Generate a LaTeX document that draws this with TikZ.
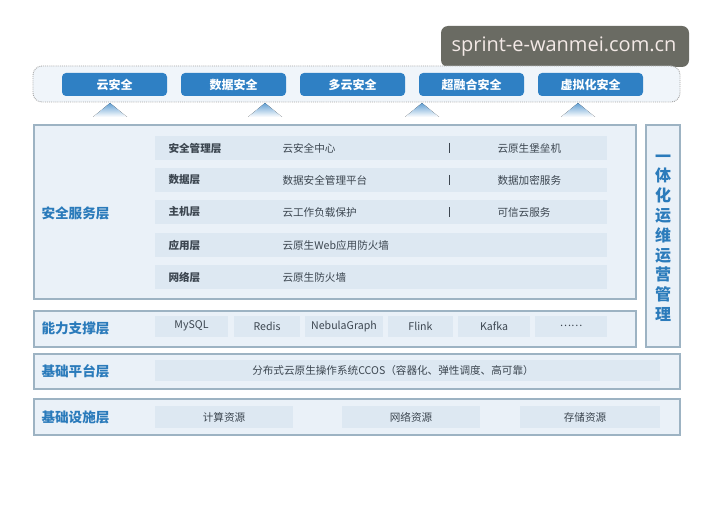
\documentclass[tikz,border=0pt]{standalone}
\usepackage{fontspec}
\setmainfont{Noto Sans CJK SC}
\newfontfamily\wmfont{Open Sans}
\usetikzlibrary{shapes.geometric}
\definecolor{btnblue}{HTML}{2F80C4}
\definecolor{lblblue}{HTML}{2B7BBB}
\definecolor{boxline}{HTML}{9DB3C3}
\definecolor{boxfill}{HTML}{EAF1F8}
\definecolor{bandfill}{HTML}{DDE8F2}
\definecolor{txtgray}{HTML}{3C4650}
\definecolor{wmgray}{HTML}{6A6B63}
\definecolor{wmtext}{HTML}{F3E9E6}
\begin{document}
\begin{tikzpicture}[x=1pt,y=-1pt,
  layerbox/.style={draw=boxline,line width=1.2pt,fill=boxfill},
  band/.style={fill=bandfill,draw=none},
  btn/.style={fill=btnblue,rounded corners=4pt,draw=none,text=white,font=\bfseries\fontsize{12}{13}\selectfont,minimum width=105pt,minimum height=23pt,inner sep=0pt},
  layerlbl/.style={anchor=west,text=lblblue,font=\bfseries\fontsize{13.6}{15}\selectfont},
  rowlbl/.style={anchor=west,text=txtgray,font=\bfseries\fontsize{10.6}{12}\selectfont},
  rowtxt/.style={anchor=west,text=txtgray,font=\fontsize{10.6}{12}\selectfont},
  ctxt/.style={text=txtgray,font=\fontsize{10.6}{12}\selectfont},
  tri/.style={top color=btnblue!75,bottom color=white,draw=none}
]
\useasboundingbox[fill=white] (0,0) rectangle (714,505);

% watermark
\node[fill=wmgray,rounded corners=7pt,minimum width=248pt,minimum height=41pt,inner sep=0pt] (wm) at (565,46.5) {};
\node[text=wmtext,font=\wmfont\fontsize{20}{22}\selectfont] (wmt) at (564,47) {sprint-e-wanmei.com.cn};

% top dotted container
\node[draw=gray!70,densely dotted,line width=0.9pt,fill=boxfill!70,rounded corners=9pt,minimum width=647pt,minimum height=36pt,inner sep=0pt] (top) at (356.5,84) {};
\node[btn] (b1) at (114.5,84.5) {云安全};
\node[btn] (b2) at (233.5,84.5) {数据安全};
\node[btn] (b3) at (352.5,84.5) {多云安全};
\node[btn] (b4) at (471.5,84.5) {超融合安全};
\node[btn] (b5) at (590.5,84.5) {虚拟化安全};

% triangles
\foreach \tx in {110,265,422,578}{
  \fill[tri] (\tx,103) -- (\tx+17,117) -- (\tx-17,117) -- cycle;
}

% security service layer
\draw[layerbox] (34,125) rectangle (636,299);
\node[layerlbl] (sec) at (38,213) {安全服务层};
\foreach \yy in {148,180,212,245,277}{
  \fill[band] (155,\yy-12) rectangle (607,\yy+12);
}
\node[rowlbl] (r1) at (165,148) {安全管理层};
\node[rowlbl] (r2) at (165,180) {数据层};
\node[rowlbl] (r3) at (165,212) {主机层};
\node[rowlbl] (r4) at (165,245) {应用层};
\node[rowlbl] (r5) at (165,277) {网络层};
\node[rowtxt] (c1) at (279,148) {云安全中心};
\node[rowtxt] (c2) at (279,180) {数据安全管理平台};
\node[rowtxt] (c3) at (279,212) {云工作负载保护};
\node[rowtxt] (c4) at (279,245) {云原生Web应用防火墙};
\node[rowtxt] (c5) at (279,277) {云原生防火墙};
\foreach \yy in {148,180,212}{
  \draw[txtgray,line width=0.8pt] (449,\yy-5) -- (449,\yy+5);
}
\node[rowtxt] (d1) at (494,148) {云原生堡垒机};
\node[rowtxt] (d2) at (494,180) {数据加密服务};
\node[rowtxt] (d3) at (494,212) {可信云服务};

% right vertical box
\draw[layerbox] (646,125) rectangle (680,347);
\node[text=lblblue,font=\bfseries\fontsize{16}{19.8}\selectfont,align=center,inner sep=0pt] (ops) at (663,238) {一\\体\\化\\运\\维\\运\\营\\管\\理};

% capability layer
\draw[layerbox] (34,311) rectangle (636,347);
\node[layerlbl] (cap) at (38,328) {能力支撑层};
\foreach \xa/\xb in {155/228,234/300,305/383,388/453,458/530,535/607}{
  \fill[band] (\xa,316) rectangle (\xb,337);
}
\node[ctxt] (m1) at (191.5,326) {MySQL};
\node[ctxt] (m2) at (267,326) {Redis};
\node[ctxt] (m3) at (344,326) {NebulaGraph};
\node[ctxt] (m4) at (420.5,326) {Flink};
\node[ctxt] (m5) at (494,326) {Kafka};
\node[ctxt] (m6) at (571,326) {\ldots\ldots};

% platform layer
\draw[layerbox] (34,354) rectangle (680,389);
\node[layerlbl] (plat) at (38,371) {基础平台层};
\fill[band] (155,360) rectangle (660,381);
\node[ctxt] (ccos) at (393,370.5) {分布式云原生操作系统CCOS（容器化、弹性调度、高可靠）};

% infrastructure layer
\draw[layerbox] (34,399) rectangle (680,435);
\node[layerlbl] (infra) at (38,417) {基础设施层};
\fill[band] (155,406) rectangle (293,428);
\fill[band] (342,406) rectangle (480,428);
\fill[band] (520,406) rectangle (660,428);
\node[ctxt] (i1) at (224,417) {计算资源};
\node[ctxt] (i2) at (411,417) {网络资源};
\node[ctxt] (i3) at (585,417) {存储资源};
\end{tikzpicture}
\end{document}
